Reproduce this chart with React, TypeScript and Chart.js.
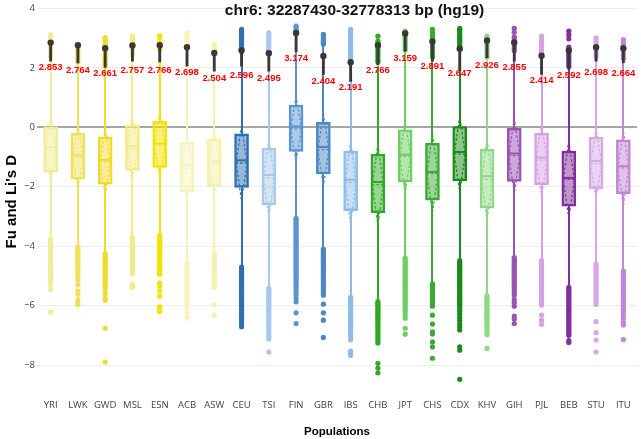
import { useEffect, useRef } from "react";
import { Chart, registerables } from "chart.js";

Chart.register(...registerables);

// Populations along the x axis
const populations = [
  "YRI", "LWK", "GWD", "MSL", "ESN", "ACB", "ASW",
  "CEU", "TSI", "FIN", "GBR", "IBS",
  "CHB", "JPT", "CHS", "CDX", "KHV",
  "GIH", "PJL", "BEB", "STU", "ITU",
];

const colors = [
  "#f2ec96", "#efe25a", "#eedc2c", "#f3eb86", "#f4e200", "#f7f3bd", "#f5f0ab",
  "#2e70b2", "#a7c9ec", "#5b94cf", "#4c87c3", "#8fbce7",
  "#30a925", "#6ccf5f", "#3ca936", "#1a8a1a", "#8ed986",
  "#9a52b4", "#d5a3e3", "#81309a", "#d6a9e6", "#c286d6",
];

// Box statistics of Fu and Li's D per population
const q1 = [-1.51, -1.74, -1.91, -1.45, -1.35, -2.16, -1.96, -2.02, -2.61, -0.81, -1.57, -2.8, -2.87, -1.84, -2.45, -1.8, -2.72, -1.82, -1.93, -2.65, -2.06, -2.23];
const median = [-0.67, -0.94, -1.09, -0.64, -0.54, -1.28, -1.15, -1.11, -1.6, 0.03, -0.66, -1.76, -1.84, -0.92, -1.5, -0.83, -1.64, -0.88, -1.02, -1.7, -1.13, -1.3];
const q3 = [0.02, -0.19, -0.32, 0.08, 0.2, -0.5, -0.38, -0.22, -0.7, 0.75, 0.17, -0.8, -0.9, -0.08, -0.53, 0.03, -0.73, -0.03, -0.19, -0.8, -0.33, -0.42];
const whiskerLow = [-3.66, -3.98, -4.2, -3.64, -3.58, -4.52, -4.2, -4.64, -5.36, -3.0, -4.04, -5.66, -5.8, -4.34, -5.22, -4.42, -5.6, -4.32, -4.42, -5.32, -4.55, -4.78];
const whiskerHigh = [2.32, 2.14, 2.06, 2.38, 2.5, 1.98, 1.98, 2.48, 2.16, 3.08, 2.76, 2.18, 2.06, 2.55, 2.34, 2.7, 2.25, 2.5, 2.4, 1.98, 2.26, 2.28];
const means = [-0.78, -1.0, -1.15, -0.72, -0.6, -1.38, -1.22, -1.2, -1.7, -0.05, -0.75, -1.85, -1.93, -0.98, -1.55, -0.9, -1.75, -0.95, -1.1, -1.75, -1.22, -1.36];
const sds = [1.07, 1.09, 1.12, 1.08, 1.1, 1.16, 1.1, 1.26, 1.32, 1.1, 1.22, 1.4, 1.38, 1.23, 1.34, 1.28, 1.39, 1.25, 1.22, 1.3, 1.21, 1.27];

// Observed D for the region and the lower end of its interval
const regionD = [2.853, 2.764, 2.661, 2.757, 2.766, 2.698, 2.504, 2.596, 2.495, 3.174, 2.404, 2.191, 2.766, 3.159, 2.891, 2.647, 2.926, 2.855, 2.414, 2.592, 2.698, 2.664];
const regionLow = [2.23, 2.17, 2.02, 2.23, 2.2, 2.06, 1.89, 2.06, 1.89, 2.55, 1.78, 1.55, 2.1, 2.56, 2.23, 1.9, 2.34, 2.23, 1.78, 1.95, 2.23, 2.17];

// Outliers above the upper whisker
const upperOutliers: number[][] = [
  [3.12, 3.02, 2.95, 2.88, 2.8, 2.72, 2.65, 2.58, 2.5, 2.44, 2.38],
  [2.62, 2.55, 2.45, 2.36, 2.28, 2.2],
  [3.02, 2.95, 2.88, 2.8, 2.72, 2.64, 2.55, 2.47, 2.38, 2.3, 2.22, 2.14, 2.08],
  [3.07, 3.0, 2.92, 2.84, 2.76, 2.68, 2.6, 2.52, 2.44],
  [3.08, 3.02, 2.85, 2.78, 2.7, 2.62],
  [3.18, 3.1, 3.0, 2.93, 2.86, 2.79],
  [2.79, 2.7, 2.62, 2.54, 2.45],
  [3.3, 3.25, 3.2, 3.14, 3.08, 3.02, 2.96, 2.9, 2.84, 2.78, 2.72, 2.66, 2.6, 2.55],
  [3.18, 3.1, 3.02, 2.95, 2.88, 2.81, 2.74, 2.67, 2.6, 2.55],
  [3.41, 3.35, 3.28, 3.22, 3.15],
  [3.13, 3.06, 2.99, 2.92, 2.86, 2.8],
  [3.3, 3.22, 3.14, 3.06, 2.98, 2.9, 2.82, 2.74, 2.66, 2.58, 2.5, 2.42, 2.34, 2.26],
  [3.07, 2.9, 2.82, 2.74, 2.66, 2.58, 2.5, 2.42, 2.34, 2.26, 2.2],
  [3.24, 3.16, 3.08, 3.0, 2.92, 2.84, 2.76, 2.68, 2.6],
  [3.3, 3.2, 3.1, 3.0, 2.92, 2.84, 2.76, 2.68, 2.6, 2.52, 2.44, 2.37],
  [3.33, 3.27, 3.18, 3.1, 3.02, 2.96, 2.9, 2.82, 2.75],
  [3.07, 3.0, 2.92, 2.84, 2.76, 2.68, 2.6, 2.52, 2.44, 2.36],
  [3.33, 3.2, 3.05, 2.98, 2.9, 2.82, 2.74, 2.66, 2.58],
  [3.07, 2.95, 2.87, 2.79, 2.71, 2.63, 2.55, 2.47],
  [3.24, 3.12, 2.98, 2.7, 2.62, 2.54, 2.46, 2.38, 2.3, 2.22, 2.14, 2.06],
  [3.01, 2.94, 2.86, 2.78, 2.7, 2.62, 2.54, 2.46, 2.38],
  [2.95, 2.88, 2.8, 2.72, 2.64, 2.56, 2.48, 2.4, 2.32],
];

// Outliers below the lower whisker
const lowerOutliers: number[][] = [
  [-3.74, -3.8, -3.86, -3.92, -3.99, -4.05, -4.12, -4.18, -4.25, -4.31, -4.38, -4.45, -4.52, -4.58, -4.66, -4.73, -4.81, -4.88, -4.96, -5.05, -5.16, -5.3, -5.45, -6.22],
  [-4.03, -4.1, -4.17, -4.24, -4.31, -4.38, -4.45, -4.52, -4.6, -4.68, -4.76, -4.84, -4.93, -5.02, -5.15, -5.3, -5.5, -5.62, -5.8, -5.88, -5.97],
  [-4.25, -4.32, -4.39, -4.46, -4.53, -4.6, -4.67, -4.74, -4.81, -4.88, -4.95, -5.03, -5.1, -5.18, -5.26, -5.35, -5.45, -5.6, -5.75, -5.82, -6.76, -7.9],
  [-3.7, -3.77, -3.84, -3.91, -3.98, -4.05, -4.12, -4.19, -4.26, -4.33, -4.4, -4.48, -4.56, -4.64, -4.72, -4.82, -4.92, -5.28, -5.38],
  [-3.63, -3.69, -3.75, -3.81, -3.87, -3.93, -3.99, -4.05, -4.11, -4.17, -4.23, -4.29, -4.35, -4.41, -4.47, -4.53, -4.6, -4.67, -4.74, -4.81, -4.88, -4.94, -5.24, -5.33, -5.5, -5.68, -6.04, -6.12, -6.2],
  [-4.58, -4.66, -4.74, -4.82, -4.9, -4.98, -5.06, -5.14, -5.22, -5.3, -5.38, -5.46, -5.55, -5.64, -5.73, -5.82, -5.92, -6.0, -6.1, -6.24, -6.42],
  [-4.25, -4.33, -4.41, -4.49, -4.57, -4.65, -4.73, -4.81, -4.9, -4.99, -5.08, -5.18, -5.28, -5.38, -5.97, -6.32],
  [-4.7, -4.76, -4.82, -4.88, -4.94, -5.0, -5.06, -5.12, -5.18, -5.24, -5.3, -5.36, -5.42, -5.48, -5.54, -5.6, -5.66, -5.72, -5.78, -5.84, -5.9, -5.96, -6.02, -6.08, -6.15, -6.22, -6.3, -6.38, -6.46, -6.55, -6.62, -6.71],
  [-5.42, -5.48, -5.54, -5.6, -5.66, -5.72, -5.78, -5.84, -5.9, -5.96, -6.02, -6.08, -6.14, -6.2, -6.26, -6.32, -6.38, -6.45, -6.52, -6.6, -6.68, -6.76, -6.85, -6.95, -7.05, -7.12, -7.56],
  [-3.06, -3.12, -3.18, -3.24, -3.3, -3.36, -3.42, -3.48, -3.54, -3.6, -3.66, -3.72, -3.78, -3.84, -3.9, -3.96, -4.02, -4.08, -4.14, -4.2, -4.26, -4.32, -4.38, -4.44, -4.5, -4.56, -4.62, -4.68, -4.74, -4.8, -4.86, -4.92, -4.98, -5.05, -5.12, -5.2, -5.28, -5.36, -5.45, -5.55, -5.65, -5.76, -5.87, -6.24, -6.6],
  [-4.1, -4.16, -4.22, -4.28, -4.34, -4.4, -4.46, -4.52, -4.58, -4.64, -4.7, -4.76, -4.82, -4.88, -4.95, -5.02, -5.1, -5.18, -5.27, -5.36, -5.46, -5.56, -5.65, -5.95, -6.24, -6.49, -7.07],
  [-5.72, -5.78, -5.84, -5.9, -5.96, -6.02, -6.08, -6.14, -6.2, -6.26, -6.32, -6.38, -6.44, -6.5, -6.56, -6.62, -6.7, -6.78, -6.86, -6.95, -7.05, -7.15, -7.53, -7.6, -7.67],
  [-5.86, -5.92, -5.98, -6.04, -6.1, -6.16, -6.22, -6.28, -6.34, -6.4, -6.46, -6.52, -6.58, -6.64, -6.7, -6.78, -6.86, -6.94, -7.02, -7.1, -7.18, -7.26, -7.94, -8.1, -8.26],
  [-4.4, -4.46, -4.52, -4.58, -4.64, -4.7, -4.76, -4.82, -4.88, -4.94, -5.0, -5.06, -5.12, -5.18, -5.24, -5.3, -5.36, -5.42, -5.48, -5.54, -5.6, -5.66, -5.72, -5.78, -5.84, -5.9, -5.97, -6.04, -6.12, -6.2, -6.3, -6.42, -6.76, -6.96],
  [-5.27, -5.33, -5.39, -5.45, -5.51, -5.57, -5.63, -5.69, -5.75, -5.81, -5.87, -5.94, -6.02, -6.32, -6.62, -6.88, -6.95, -7.22, -7.39, -7.77],
  [-4.48, -4.54, -4.6, -4.66, -4.72, -4.78, -4.84, -4.9, -4.96, -5.02, -5.08, -5.14, -5.2, -5.26, -5.32, -5.38, -5.44, -5.5, -5.56, -5.62, -5.68, -5.74, -5.8, -5.86, -5.92, -5.98, -6.04, -6.12, -6.2, -6.3, -6.4, -6.5, -6.62, -6.72, -6.82, -7.39, -7.5, -8.48],
  [-5.66, -5.72, -5.78, -5.84, -5.9, -5.96, -6.02, -6.08, -6.14, -6.2, -6.26, -6.32, -6.38, -6.44, -6.5, -6.56, -6.62, -6.68, -6.75, -6.82, -6.9, -6.98, -7.44],
  [-4.38, -4.44, -4.5, -4.56, -4.62, -4.68, -4.74, -4.8, -4.86, -4.92, -4.98, -5.04, -5.1, -5.16, -5.22, -5.28, -5.34, -5.4, -5.48, -5.56, -5.65, -5.8, -5.9, -6.02, -6.35, -6.45, -6.6],
  [-4.48, -4.55, -4.62, -4.69, -4.76, -4.83, -4.9, -4.97, -5.04, -5.11, -5.18, -5.25, -5.32, -5.39, -5.46, -5.53, -5.6, -5.68, -5.76, -5.84, -5.92, -5.98, -6.32, -6.49, -6.63],
  [-5.38, -5.44, -5.5, -5.56, -5.62, -5.68, -5.74, -5.8, -5.86, -5.92, -5.98, -6.04, -6.1, -6.16, -6.22, -6.28, -6.34, -6.4, -6.46, -6.52, -6.58, -6.64, -6.7, -6.76, -6.82, -6.88, -6.94, -7.0, -7.18, -7.24],
  [-4.6, -4.67, -4.74, -4.81, -4.88, -4.95, -5.02, -5.09, -5.16, -5.23, -5.3, -5.37, -5.44, -5.51, -5.58, -5.65, -5.72, -5.8, -5.88, -5.96, -6.54, -6.91, -7.16, -7.56],
  [-4.84, -4.9, -4.96, -5.02, -5.08, -5.14, -5.2, -5.26, -5.32, -5.38, -5.44, -5.5, -5.56, -5.62, -5.68, -5.74, -5.8, -5.86, -5.92, -5.98, -6.04, -6.12, -6.2, -6.3, -6.42, -6.55, -6.65, -7.14],
];

const yTicks = { min: -9, max: 4, step: 2 };
const titleText = "chr6: 32287430-32778313 bp (hg19)";
const yTitle = "Fu and Li's D";
const xTitle = "Populations";

function withAlpha(hex: string, a: number): string {
  const n = parseInt(hex.slice(1), 16);
  return `rgba(${(n >> 16) & 255}, ${(n >> 8) & 255}, ${n & 255}, ${a})`;
}

const BOX_WIDTH = 14;

// Whiskers, medians, mean/SD diamonds, red value labels and the chart title
const boxExtras = {
  id: "boxExtras",
  beforeDatasetsDraw(chart: any) {
    const { ctx, scales } = chart;
    const x = scales.x;
    const y = scales.y;
    ctx.save();
    ctx.lineWidth = 2;
    ctx.lineCap = "butt";
    populations.forEach((_, i) => {
      const cx = Math.round(x.getPixelForValue(i));
      ctx.strokeStyle = colors[i];
      ctx.beginPath();
      ctx.moveTo(cx, y.getPixelForValue(q3[i]));
      ctx.lineTo(cx, y.getPixelForValue(whiskerHigh[i]));
      ctx.moveTo(cx, y.getPixelForValue(q1[i]));
      ctx.lineTo(cx, y.getPixelForValue(whiskerLow[i]));
      ctx.stroke();
    });
    ctx.restore();
  },
  afterDatasetsDraw(chart: any) {
    const { ctx, scales } = chart;
    const x = scales.x;
    const y = scales.y;
    const half = BOX_WIDTH / 2;
    ctx.save();
    populations.forEach((_, i) => {
      const cx = x.getPixelForValue(i);
      ctx.strokeStyle = colors[i];
      ctx.setLineDash([]);
      ctx.lineWidth = 2;
      const ymed = y.getPixelForValue(median[i]);
      ctx.beginPath();
      ctx.moveTo(cx - half + 1, ymed);
      ctx.lineTo(cx + half - 1, ymed);
      ctx.stroke();

      const ym = y.getPixelForValue(means[i]);
      const yt = y.getPixelForValue(means[i] + sds[i]);
      const yb = y.getPixelForValue(means[i] - sds[i]);
      ctx.lineWidth = 1.3;
      ctx.setLineDash([2.5, 2]);
      ctx.beginPath();
      ctx.moveTo(cx - half + 1, ym);
      ctx.lineTo(cx + half - 1, ym);
      ctx.stroke();
      ctx.beginPath();
      ctx.moveTo(cx, yt);
      ctx.lineTo(cx - half + 1.5, ym);
      ctx.lineTo(cx, yb);
      ctx.lineTo(cx + half - 1.5, ym);
      ctx.closePath();
      ctx.stroke();
    });
    ctx.restore();
  },
  afterDraw(chart: any) {
    const { ctx, scales } = chart;
    const x = scales.x;
    const y = scales.y;
    ctx.save();
    ctx.fillStyle = "#ff0000";
    ctx.font = 'bold 9.5px "Liberation Sans", Arial, sans-serif';
    ctx.textAlign = "center";
    ctx.textBaseline = "middle";
    regionD.forEach((v, i) => {
      ctx.fillText(v.toFixed(3), x.getPixelForValue(i), y.getPixelForValue(v) + 25);
    });
    ctx.fillStyle = "#111111";
    ctx.font = 'bold 15.5px "Liberation Sans", Arial, sans-serif';
    ctx.textBaseline = "alphabetic";
    ctx.fillText(titleText, 354.5, 14.5);
    ctx.restore();
  },
};

export default function App() {
  const canvasRef = useRef<HTMLCanvasElement | null>(null);

  useEffect(() => {
    if (!canvasRef.current) return;

    const outlierPoints: { x: string; y: number }[] = [];
    const outlierColors: string[] = [];
    populations.forEach((p, i) => {
      [...upperOutliers[i], ...lowerOutliers[i]].forEach((v) => {
        outlierPoints.push({ x: p, y: v });
        outlierColors.push(colors[i]);
      });
    });

    // Bar datasets share one stack slot so they sit centred on each category
    const shared = { type: "bar", stack: "one", grouped: true };

    const chart = new Chart(canvasRef.current, {
      type: "bar",
      data: {
        labels: populations,
        datasets: [
          {
            ...shared,
            label: "box",
            data: populations.map((_, i) => [q1[i], q3[i]]),
            backgroundColor: colors.map((c) => withAlpha(c, 0.5)),
            borderColor: colors,
            borderWidth: 1.8,
            borderSkipped: false,
            barThickness: BOX_WIDTH,
            maxBarThickness: BOX_WIDTH,
            order: 9,
          },
          {
            type: "scatter",
            label: "outliers",
            data: outlierPoints,
            pointBackgroundColor: outlierColors,
            pointBorderWidth: 0,
            pointRadius: 2.6,
            showLine: false,
            order: 8,
          },
          {
            ...shared,
            label: "interval",
            data: populations.map((_, i) => [regionLow[i], regionD[i]]),
            backgroundColor: "#383838",
            barThickness: 2.2,
            maxBarThickness: 2.2,
            order: 2,
          },
          {
            type: "scatter",
            label: "region D",
            data: populations.map((p, i) => ({ x: p, y: regionD[i] })),
            pointBackgroundColor: "#383838",
            pointBorderWidth: 0,
            pointRadius: 3.2,
            showLine: false,
            order: 1,
          },
        ] as any,
      },
      options: {
        animation: false,
        responsive: true,
        maintainAspectRatio: false,
        events: [],
        layout: { padding: { top: 8.5, right: 0, bottom: 0, left: 0 } },
        plugins: {
          legend: { display: false },
          tooltip: { enabled: false },
          title: { display: false },
        },
        scales: {
          x: {
            type: "category",
            offset: true,
            grid: { display: false, drawTicks: false },
            border: { display: false },
            ticks: {
              autoSkip: false,
              maxRotation: 0,
              padding: 5,
              color: "#444444",
              font: { family: '"Open Sans", "DejaVu Sans", sans-serif', size: 9.5 },
            },
            title: {
              display: true,
              text: xTitle,
              color: "#000000",
              padding: { top: 0, bottom: 0 },
              font: { family: '"Liberation Sans", Arial, sans-serif', size: 11.5, weight: "bold" },
            },
            afterFit: (scale: any) => {
              scale.height = 44.2;
            },
          },
          y: {
            type: "linear",
            stacked: false,
            min: yTicks.min,
            max: yTicks.max,
            grid: {
              drawTicks: false,
              color: (c: any) => (c.tick && c.tick.value === 0 ? "#a6a6a6" : "#ededed"),
              lineWidth: (c: any) => (c.tick && c.tick.value === 0 ? 2 : 1),
            },
            border: { display: false },
            ticks: {
              stepSize: yTicks.step,
              includeBounds: false,
              padding: 2,
              color: "#444444",
              font: { family: '"Open Sans", "DejaVu Sans", sans-serif', size: 9.5 },
              callback: (v: any) => (Number(v) < 0 ? "\u2212" + Math.abs(Number(v)) : String(v)),
            },
            title: {
              display: true,
              text: yTitle,
              color: "#000000",
              padding: { top: 3, bottom: 0 },
              font: { family: '"Liberation Sans", Arial, sans-serif', size: 15, weight: "bold" },
            },
            afterFit: (scale: any) => {
              scale.width = 37;
            },
          },
        },
      } as any,
      plugins: [boxExtras],
    });

    return () => chart.destroy();
  }, []);

  return (
    <div style={{ position: "fixed", left: 0, top: 0, width: 641, height: 439, background: "#ffffff" }}>
      <canvas ref={canvasRef} />
    </div>
  );
}
